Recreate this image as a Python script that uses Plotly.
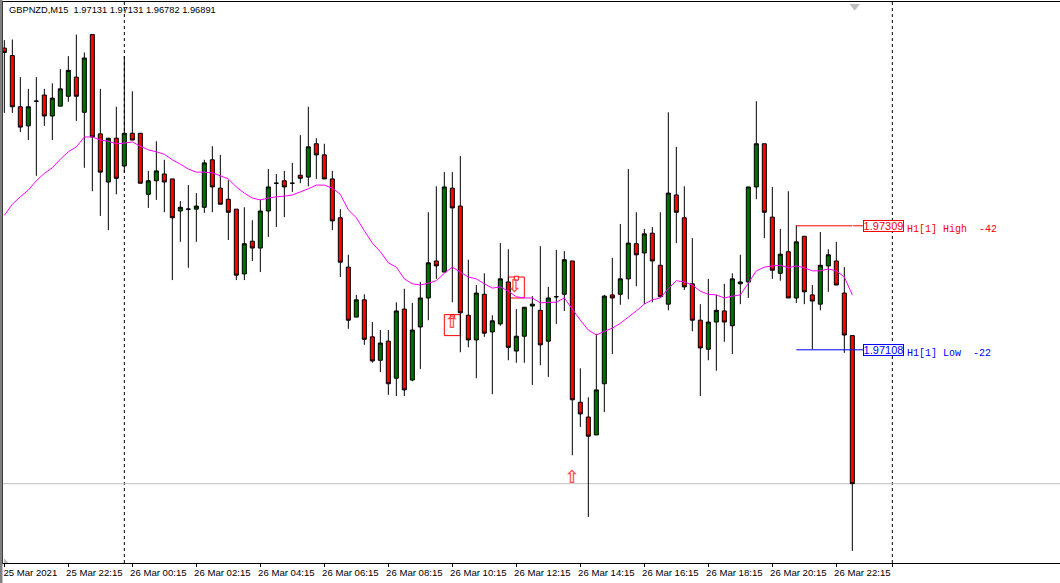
import plotly.graph_objects as go

POINT = 1e-5

# Bar prices in points (1 point = 0.00001), 15-minute bars from 25 Mar 2021 20:15
opens_pts = [197597,197585,197502,197471,197511,197521,197487,197503,197519,197550,197493,197619,197458,197380,197451,197406,197459,197459,197360,197382,
197393,197385,197333,197336,197336,197339,197416,197370,197352,197336,197231,197284,197273,197333,197378,197382,197378,197391,197388,197442,
197424,197385,197322,197242,197161,197189,197129,197091,197122,197062,197174,197059,197145,197192,197252,197234,197370,197341,197164,197124,
197198,197137,197150,197218,197106,197130,197179,197172,197122,197194,197198,197252,197023,196999,196970,197053,197197,197198,197223,197280,
197265,197297,197245,197182,197359,197322,197215,197156,197109,197153,197171,197147,197215,197218,197372,197442,197323,197232,197267,197192,
197292,197197,197182,197244,197252,197200,197131]
highs_pts = [197610,197611,197550,197531,197550,197531,197540,197563,197584,197619,197590,197619,197531,197451,197502,197584,197527,197459,197398,197446,
197416,197385,197349,197375,197362,197416,197438,197424,197383,197336,197339,197318,197351,197401,197393,197398,197411,197456,197502,197451,
197442,197398,197336,197262,197197,197198,197153,197140,197140,197185,197207,197184,197218,197331,197373,197396,197396,197422,197254,197213,
197232,197164,197281,197271,197174,197177,197195,197276,197210,197270,197268,197252,197078,197031,197134,197197,197257,197312,197401,197331,
197304,197307,197331,197493,197437,197373,197289,197182,197223,197197,197215,197232,197262,197372,197511,197442,197372,197304,197365,197310,
197292,197213,197299,197271,197283,197242,197131]
lows_pts = [197492,197492,197461,197448,197390,197471,197448,197503,197510,197479,197403,197365,197325,197302,197360,197395,197448,197378,197338,197351,
197331,197221,197283,197241,197283,197330,197331,197344,197286,197221,197221,197252,197234,197291,197307,197323,197364,197378,197373,197385,
197385,197302,197226,197142,197161,197116,197087,197072,197035,197033,197033,197057,197077,197156,197223,197234,197185,197104,197112,197062,
197129,197036,197147,197091,197087,197087,197051,197083,197064,197150,197171,196937,196983,196837,196970,197007,197101,197181,197190,197211,
197182,197185,197194,197172,197281,197205,197138,197033,197091,197074,197121,197101,197182,197192,197352,197289,197223,197220,197192,197184,
197182,197109,197172,197202,197213,197103,196782]
closes_pts = [197590,197502,197469,197502,197511,197487,197516,197531,197561,197519,197581,197453,197396,197451,197386,197459,197448,197378,197382,197398,
197380,197322,197339,197336,197341,197411,197372,197344,197331,197229,197280,197273,197333,197372,197378,197372,197378,197386,197437,197424,
197385,197317,197250,197156,197189,197125,197090,197119,197053,197171,197043,197140,197192,197249,197244,197372,197338,197168,197124,197200,
197135,197155,197223,197112,197130,197177,197182,197116,197192,197194,197254,197027,197004,196968,197043,197195,197192,197223,197281,197262,
197296,197252,197194,197362,197331,197210,197156,197111,197153,197172,197153,197223,197218,197372,197442,197331,197237,197263,197192,197283,
197202,197187,197245,197262,197213,197132,196891]
ma_pts = [197326,197344,197356,197367,197382,197394,197403,197417,197429,197437,197453,197453,197448,197446,197442,197443,197445,197438,197432,197429,
197425,197416,197409,197401,197396,197396,197395,197390,197385,197372,197362,197354,197351,197354,197356,197357,197359,197364,197369,197375,
197375,197370,197360,197335,197322,197301,197281,197267,197249,197242,197223,197215,197213,197216,197220,197232,197242,197234,197226,197223,
197215,197208,197210,197203,197194,197192,197192,197184,197185,197185,197192,197174,197156,197140,197132,197138,197143,197151,197161,197171,
197182,197189,197192,197207,197220,197218,197213,197203,197198,197197,197192,197195,197197,197216,197236,197242,197244,197245,197241,197244,
197241,197236,197236,197239,197236,197226,197197]

tick_bars = [0,8,16,24,32,40,48,56,64,72,80,88,96,104,111]
tick_labels = ["25 Mar 2021","25 Mar 22:15","26 Mar 00:15","26 Mar 02:15","26 Mar 04:15","26 Mar 06:15","26 Mar 08:15",
               "26 Mar 10:15","26 Mar 12:15","26 Mar 14:15","26 Mar 16:15","26 Mar 18:15","26 Mar 20:15","26 Mar 22:15",""]
separator_bars = [15, 111]
bid_price = 1.96891
high_level = 1.97309
low_level = 1.97108
high_text = "H1[1]\u00a0High\u00a0\u00a0-42"
low_text = "H1[1]\u00a0Low\u00a0\u00a0-22"
title_text = "GBPNZD,M15\u00a0\u00a01.97131 1.97131 1.96782 1.96891"
up_arrow_bars = [56, 71]
up_arrow_prices = [1.97150, 1.96900]
down_arrow_bars = [63.8]
down_arrow_prices = [1.97209]
signal_boxes = [(55, 57, 1.97165, 1.97131), (63, 65, 1.97226, 1.97192)]
signal_dots_x = [56, 64]
signal_dots_y = [1.97162, 1.97224]

RED, GREEN, BLUE, MAGENTA = "#FF0000", "#006F00", "#0000FF", "#FF00FF"
SANS = "Liberation Sans"

bars = list(range(len(opens_pts)))
scale = lambda a: [round(v * POINT, 5) for v in a]

fig = go.Figure()
for b0, b1, p_top, p_bot in signal_boxes:
    fig.add_shape(type="rect", x0=b0, x1=b1, y0=p_bot, y1=p_top, line=dict(color=RED, width=1),
                  fillcolor="rgba(0,0,0,0)", layer="below")
fig.add_shape(type="line", x0=-1, x1=140, y0=bid_price, y1=bid_price, line=dict(color="#C0C0C0", width=1), layer="below")
for b in separator_bars:
    fig.add_shape(type="line", x0=b, x1=b, yref="paper", y0=0, y1=1, line=dict(color="#000000", width=1, dash="3px,3px"), layer="below")

fig.add_trace(go.Scatter(x=[99, 106, None, 106.1, 107.4], y=[high_level, high_level, None, high_level, high_level],
                         mode="lines", line=dict(color=RED, width=1), hoverinfo="skip", showlegend=False))
fig.add_trace(go.Scatter(x=[99, 107.4], y=[low_level, low_level], mode="lines", line=dict(color=BLUE, width=1),
                         hoverinfo="skip", showlegend=False))

fig.add_trace(go.Candlestick(
    x=bars, open=scale(opens_pts), high=scale(highs_pts), low=scale(lows_pts), close=scale(closes_pts),
    whiskerwidth=0, showlegend=False, hoverinfo="skip",
    increasing=dict(fillcolor=GREEN, line=dict(color="#000000", width=1)),
    decreasing=dict(fillcolor=RED, line=dict(color="#000000", width=1)),
))
fig.add_trace(go.Scatter(x=bars, y=scale(ma_pts), mode="lines", line=dict(color=MAGENTA, width=1, simplify=False),
                         hoverinfo="skip", showlegend=False))
fig.add_trace(go.Scatter(x=signal_dots_x, y=signal_dots_y, mode="markers",
                         marker=dict(symbol="square", size=4, color="#FFFFFF", line=dict(color=RED, width=1)),
                         hoverinfo="skip", showlegend=False))
arrow_font = dict(family="DejaVu Sans", size=18, color="#FF5050", weight="bold")
fig.add_trace(go.Scatter(x=up_arrow_bars, y=up_arrow_prices, mode="text", text=["\u21e7"] * 2, textposition="middle center",
                         textfont=arrow_font, hoverinfo="skip", showlegend=False))
fig.add_trace(go.Scatter(x=down_arrow_bars, y=down_arrow_prices, mode="text", text=["\u21e9"], textposition="middle center",
                         textfont=arrow_font, hoverinfo="skip", showlegend=False))
fig.add_trace(go.Scatter(x=[106.3], y=[1.97665], mode="markers", marker=dict(symbol="triangle-down", size=9, color="#C0C0C0"),
                         hoverinfo="skip", showlegend=False))

def box(text, level, color):
    fig.add_annotation(x=107.35, y=level, xanchor="left", yanchor="middle", showarrow=False, text=text,
                       width=39, height=10, borderpad=0, borderwidth=1, bordercolor=color, bgcolor="#FFFFFF",
                       font=dict(family=SANS, size=11, color=color))
box("1.97309", high_level, RED)
box("1.97108", low_level, BLUE)
fig.add_annotation(x=112.6, y=high_level, xanchor="left", yanchor="middle", showarrow=False, text=high_text,
                   yshift=-4, font=dict(family="Liberation Mono", size=10, color=RED))
fig.add_annotation(x=112.6, y=low_level, xanchor="left", yanchor="middle", showarrow=False, text=low_text,
                   yshift=-4, font=dict(family="Liberation Mono", size=10, color=BLUE))
fig.add_annotation(xref="paper", yref="paper", x=0.004, y=1, yshift=-1, xanchor="left", yanchor="top", showarrow=False,
                   text=title_text, font=dict(family=SANS, size=9.3, color="#000000"))

# grey window edge at the left of the chart
fig.add_shape(type="rect", xref="paper", yref="paper", x0=-0.0029, x1=-0.0005, y0=-0.04, y1=1.01,
              fillcolor="#808080", line=dict(width=0))
fig.add_shape(type="path", xref="paper", yref="paper", path="M 0.0008 0.009 L 0.0008 0 L 0.0055 0 Z",
              fillcolor="#C0C0C0", line=dict(width=0))

fig.update_layout(
    width=1060, height=583, autosize=False,
    margin=dict(l=3, r=0, t=2, b=20, pad=0),
    paper_bgcolor="#FFFFFF", plot_bgcolor="#FFFFFF",
    boxgap=0.28, showlegend=False,
    xaxis=dict(range=[-0.166, 131.96], rangeslider=dict(visible=False), tickmode="array", tickvals=tick_bars, ticktext=tick_labels,
               showgrid=False, zeroline=False, showline=True, linecolor="#000000", linewidth=1, mirror=True,
               ticks="outside", ticklen=3, tickwidth=1, tickcolor="#000000", ticklabelshift=26, ticklabeloverflow="allow",
               ticklabelstandoff=-3,
               tickfont=dict(family=SANS, size=9.6, color="#000000"), tickangle=0),
    yaxis=dict(range=[1.967624, 1.976718], showgrid=False, zeroline=False, showline=True, linecolor="#000000", linewidth=1,
               showticklabels=False, ticks=""),
    hovermode=False,
)
fig.write_html("out.html", config=dict(displayModeBar=False),
               post_script="document.body.style.margin='0';document.documentElement.style.overflow='hidden';")
